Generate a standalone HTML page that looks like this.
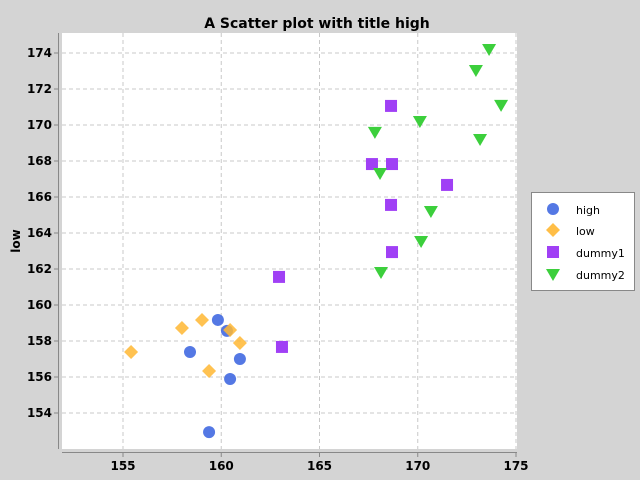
<!DOCTYPE html>
<html><head><meta charset="utf-8"><style>
html,body{margin:0;padding:0;width:640px;height:480px;overflow:hidden;background:#d4d4d4;font-family:"DejaVu Sans","Liberation Sans",sans-serif}
svg{display:block}
</style></head><body>
<svg id="c" width="640" height="480" xmlns="http://www.w3.org/2000/svg">
<rect width="640" height="480" fill="#d4d4d4"/>
<text x="317" y="28" text-anchor="middle" font-size="14" font-weight="bold" font-family="DejaVu Sans, sans-serif">A Scatter plot with title high</text>
<rect x="62" y="33" width="455" height="416" fill="#fff"/>
<g id="grid"></g><g id="axes"></g><g id="marks"></g>
<text transform="translate(20,241) rotate(-90)" text-anchor="middle" font-size="12" font-weight="bold">low</text>
<g>
<rect x="531.5" y="192.5" width="103" height="98" fill="#fff" stroke="#888"/>
<circle cx="553" cy="209" r="6" fill="#4169e1" opacity="0.9"/>
<text x="576" y="214" font-size="11">high</text>
<polygon points="553,223 560,230 553,237 546,230" fill="#ffb733" opacity="0.9"/>
<text x="576" y="235" font-size="11">low</text>
<rect x="547" y="246" width="12" height="12" fill="#a040f5"/>
<text x="576" y="257" font-size="11">dummy1</text>
<polygon points="546,269 560,269 553,281" fill="#3ccf3c"/>
<text x="576" y="279" font-size="11">dummy2</text>
</g>
</svg>
<script>
const xTicks=[155,160,165,170,175];
const yTicks=[154,156,158,160,162,164,166,168,170,172,174];
const highX=[159.83,160.29,158.41,160.95,160.45,159.38];
const highY=[159.17,158.56,157.39,157.0,155.89,152.94];
const lowX=[155.41,158.0,159.02,160.45,160.95,159.38];
const lowY=[157.39,158.72,159.17,158.61,157.89,156.33];
const d1X=[168.64,167.67,168.69,171.49,168.64,168.69,162.94,163.09];
const d1Y=[171.06,167.83,167.83,166.67,165.56,162.94,161.56,157.67];
const d2X=[173.63,172.96,174.24,167.82,170.11,173.17,168.08,170.67,170.17,168.13];
const d2Y=[174.17,173.0,171.06,169.56,170.17,169.17,167.28,165.17,163.5,161.78];
const NS="http://www.w3.org/2000/svg";
const sx=v=>123+(v-155)*19.65;
const sy=v=>53-(v-174)*18;
function mk(t,a,p){const e=document.createElementNS(NS,t);for(const k in a)e.setAttribute(k,a[k]);p.appendChild(e);return e;}
const g=document.getElementById('grid'),ax=document.getElementById('axes'),m=document.getElementById('marks');
xTicks.forEach(v=>{
 const l=mk('line',{x1:sx(v),x2:sx(v),y1:33,y2:449,stroke:'#c8c8c8','stroke-dasharray':'4,3'},g);
 
 
 const tk=mk('line',{x1:sx(v),x2:sx(v),y1:453,y2:457,stroke:'#888'},ax);
 
 
 const t=mk('text',{x:sx(v),y:470,'text-anchor':'middle','font-size':12,'font-weight':'bold'},ax);t.textContent=v;
 
 
});
yTicks.forEach(v=>{
 const l=mk('line',{x1:62,x2:517,y1:sy(v),y2:sy(v),stroke:'#c8c8c8','stroke-dasharray':'4,3'},g);
 
 
 const tk=mk('line',{x1:54,x2:58,y1:sy(v),y2:sy(v),stroke:'#888'},ax);
 
 
 const t=mk('text',{x:52,y:sy(v)+4,'text-anchor':'end','font-size':12,'font-weight':'bold'},ax);t.textContent=v;
 
 
});
const xa=mk('line',{x1:62,x2:517,y1:452.5,y2:452.5,stroke:'#888'},ax);


const ya=mk('line',{x1:58.5,x2:58.5,y1:33,y2:449,stroke:'#888'},ax);


highX.forEach((v,i)=>{const e=mk('circle',{cx:sx(v),cy:sy(highY[i]),r:6,fill:'#4169e1',opacity:0.9},m);
 
 });
lowX.forEach((v,i)=>{const x=sx(v),y=sy(lowY[i]);const e=mk('polygon',{points:`${x},${y-7} ${x+7},${y} ${x},${y+7} ${x-7},${y}`,fill:'#ffb733',opacity:0.85},m);
 
 });
d1X.forEach((v,i)=>{const e=mk('rect',{x:sx(v)-6,y:sy(d1Y[i])-6,width:12,height:12,fill:'#a040f5'},m);
 
 });
d2X.forEach((v,i)=>{const x=sx(v),y=sy(d2Y[i]);const e=mk('polygon',{points:`${x-7},${y-6} ${x+7},${y-6} ${x},${y+6}`,fill:'#3ccf3c'},m);
 
 });
</script>
</body></html>
